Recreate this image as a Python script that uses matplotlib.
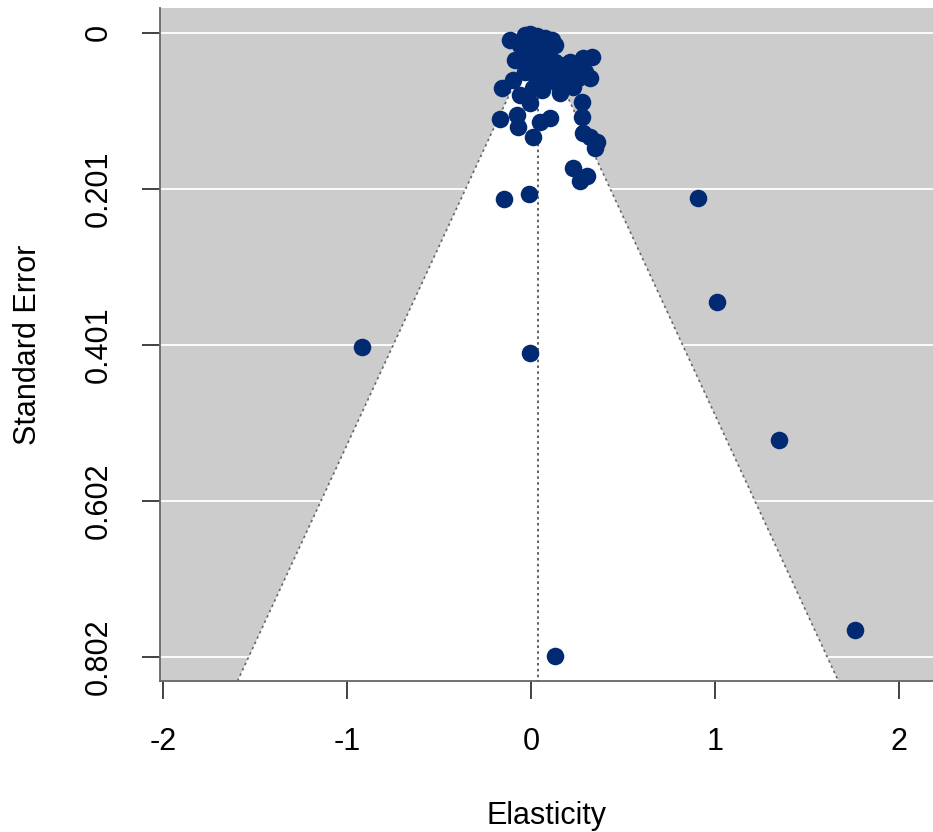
import numpy as np
import matplotlib
matplotlib.use("Agg")
import matplotlib.pyplot as plt

plt.rcParams['font.family'] = ['Liberation Sans', 'DejaVu Sans']
plt.rcParams['axes.unicode_minus'] = False

# estimates (elasticity) and their standard errors
elasticity = [
    -0.005, -0.033, 0.033, 0.076, 0.114, 0.130, -0.114, -0.060, -0.005, 0.049,
    0.092, -0.087, -0.033, 0.022, 0.076, 0.130, 0.185, 0.212, 0.239, 0.283,
    0.332, 0.293, 0.255, 0.201, 0.141, 0.076, 0.022, -0.033, -0.098, -0.158,
    -0.060, -0.005, 0.158, 0.228, 0.277, 0.277, 0.283, 0.321, 0.359, 0.348,
    0.103, 0.049, 0.011, -0.071, -0.168, -0.076, 0.049, 0.103, 0.158, 0.011,
    0.060, 0.321, 0.092, 0.038,
    0.908, 1.011, 1.348, 1.761, -0.918, -0.005, 0.130, -0.147, -0.011, 0.228,
    0.266, 0.304,
]
std_err = [
    0.001, 0.003, 0.004, 0.006, 0.009, 0.015, 0.009, 0.015, 0.019, 0.022,
    0.024, 0.035, 0.032, 0.037, 0.035, 0.037, 0.041, 0.037, 0.048, 0.032,
    0.031, 0.050, 0.058, 0.060, 0.064, 0.060, 0.054, 0.050, 0.060, 0.071,
    0.080, 0.090, 0.077, 0.069, 0.089, 0.108, 0.129, 0.134, 0.140, 0.148,
    0.109, 0.114, 0.134, 0.121, 0.111, 0.105, 0.045, 0.048, 0.050, 0.071,
    0.073, 0.058, 0.015, 0.028,
    0.212, 0.346, 0.523, 0.767, 0.404, 0.411, 0.801, 0.213, 0.207, 0.174,
    0.190, 0.184,
]
estimate = 0.038
y_ticks = [0, 0.2005, 0.401, 0.6015, 0.802]
y_labels = ["0", "0.201", "0.401", "0.602", "0.802"]
x_ticks = [-2, -1, 0, 1, 2]

fig = plt.figure(figsize=(9.33, 8.32), dpi=100)
ax = fig.add_axes([160 / 933, 151 / 832, 773 / 933, 673 / 832])

xlim = (-2.016, 2.185)
ylim = (0.833, -0.032)
ax.set_xlim(xlim)
ax.set_ylim(ylim)
ax.set_facecolor("#cccccc")

# white grid lines at y ticks
for yt in y_ticks:
    ax.axhline(yt, color="white", lw=1.3, zorder=1)

# funnel
se_bot = ylim[0]
fx = [estimate - 1.96 * se_bot, estimate, estimate + 1.96 * se_bot]
fy = [se_bot, 0, se_bot]
ax.fill(fx, fy, color="white", zorder=2, lw=0)
ax.plot(fx, fy, color="#666666", ls=(0, (1.5, 2)), lw=1.2, zorder=3)
ax.plot([estimate, estimate], [0, se_bot], color="#444444", ls=(0, (1.5, 2)),
        lw=1.2, zorder=3)

ax.scatter(elasticity, std_err, s=160, color="#012a72", zorder=4, lw=0)

ax.set_xticks(x_ticks)
ax.set_xticklabels([str(v) for v in x_ticks])
ax.set_yticks(y_ticks)
ax.set_yticklabels(y_labels, rotation=90, va="center")
ax.tick_params(axis="both", length=13, width=1.2, color="#222222",
               labelsize=22, pad=20)
for s in ["top", "right"]:
    ax.spines[s].set_visible(False)
for s in ["left", "bottom"]:
    ax.spines[s].set_color("#666666")
    ax.spines[s].set_linewidth(1.3)

ax.set_xlabel("Elasticity", fontsize=22, labelpad=32)
ax.set_ylabel("Standard Error", fontsize=22, labelpad=30)

fig.savefig("out.png", dpi=100)
